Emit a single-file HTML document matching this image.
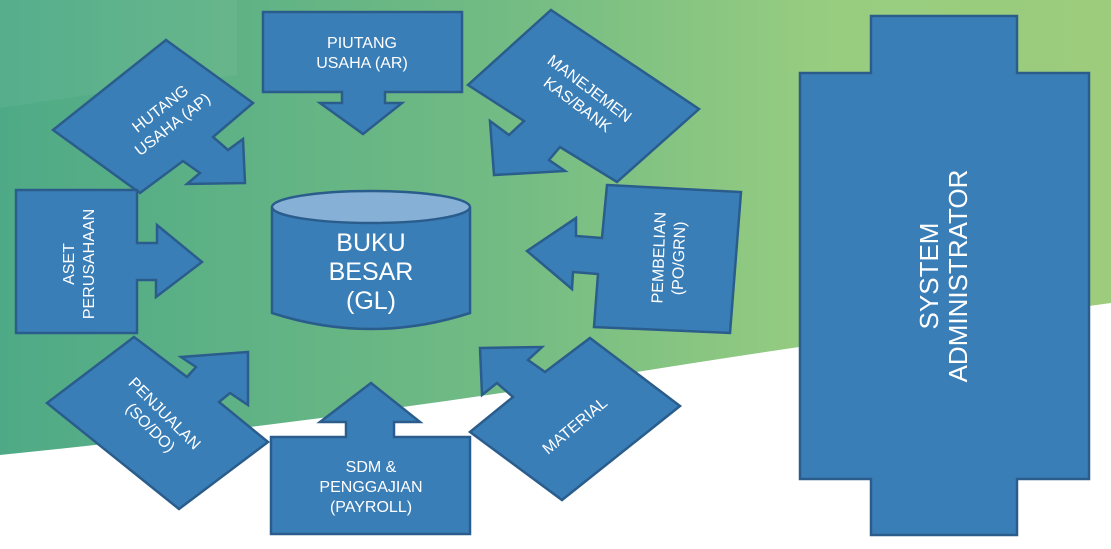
<!DOCTYPE html>
<html><head><style>
html,body{margin:0;padding:0;width:1111px;height:549px;overflow:hidden;background:#fff}
svg{display:block}
text{font-family:"Liberation Sans",sans-serif;fill:#fff}
</style></head><body>
<svg width="1111" height="549" viewBox="0 0 1111 549" xmlns="http://www.w3.org/2000/svg">
<defs>
<linearGradient id="bg" x1="0" y1="0" x2="1" y2="0">
<stop offset="0" stop-color="#4eaa86"/>
<stop offset="0.45" stop-color="#72bb84"/>
<stop offset="0.75" stop-color="#98cd80"/>
<stop offset="1" stop-color="#9ccc7c"/>
</linearGradient>
</defs>
<path d="M0 0 H1111 V303 Q800 345 600 378 Q300 425 0 455 Z" fill="url(#bg)"/>
<path d="M0 0 H237 V75 Q120 90 0 108 Z" fill="#ffffff" opacity="0.05"/>
<g fill="#3a7eb8" stroke="#2a5d8c" stroke-width="2.5" stroke-linejoin="miter">
<polygon points="263,12 462,12 462,92 385,92 385,103 402,103 363,134 320,103 342,103 342,92 263,92"/>
<polygon points="166,40 253,103 213,137 228,150 243,139 245,183 187,184 200,173 183,161 140,193 53,130"/>
<polygon points="551,10 699,109 617,182 560,147 549,160 565,171 494,175 490,121 509,135 524,121 468,85"/>
<polygon points="16,190 137,190 137,243 157,243 157,225 202,262 156,297 156,280 137,280 137,333 16,333"/>
<polygon points="607,185 741,192 730,333 594,327 598,274 573,272 572,289 527,251 576,218 576,236 602,238"/>
<polygon points="134,337 187,377 196,367 181,357 248,352 248,405 230,393 219,402 268,442 179,509 47,403"/>
<polygon points="590,338 680,406 562,500 470,432 513,397 497,383 482,395 480,348 542,347 528,360 545,372"/>
<polygon points="271,437 346,437 346,422 320,422 371,383 420,422 394,422 394,437 470,437 470,534 271,534"/>
<polygon points="871,16 1017,16 1017,73 1089,73 1089,479 1017,479 1017,535 871,535 871,479 800,479 800,73 871,73"/>
<path d="M272 207 V313 Q371 345 470 313 V207"/>
<ellipse cx="371" cy="207" rx="99" ry="16" fill="#86b0d6"/>
</g>
<g font-size="16" text-anchor="middle">
<text x="362" y="48">PIUTANG</text>
<text x="362" y="68">USAHA (AR)</text>
<text transform="translate(166,116) rotate(-38)"><tspan x="0" y="-4">HUTANG</tspan><tspan x="0" y="16">USAHA (AP)</tspan></text>
<text transform="translate(584,96) rotate(37)"><tspan x="0" y="-4">MANEJEMEN</tspan><tspan x="0" y="16">KAS/BANK</tspan></text>
<text transform="translate(78,264) rotate(-90)"><tspan x="0" y="-4">ASET</tspan><tspan x="0" y="16">PERUSAHAAN</tspan></text>
<text transform="translate(668,258) rotate(-88)"><tspan x="0" y="-4">PEMBELIAN</tspan><tspan x="0" y="16">(PO/GRN)</tspan></text>
<text transform="translate(158,420) rotate(45)"><tspan x="0" y="-4">PENJUALAN</tspan><tspan x="0" y="16">(SO/DO)</tspan></text>
<text transform="translate(575,426) rotate(-40)" x="0" y="5">MATERIAL</text>
<text x="371" y="472">SDM &amp;</text>
<text x="371" y="492">PENGGAJIAN</text>
<text x="371" y="512">(PAYROLL)</text>
</g>
<g font-size="25" text-anchor="middle">
<text x="371" y="251">BUKU</text>
<text x="371" y="280">BESAR</text>
<text x="371" y="309">(GL)</text>
</g>
<text font-size="26" text-anchor="middle" transform="translate(944,276) rotate(-90)"><tspan x="0" y="-6">SYSTEM</tspan><tspan x="0" y="23">ADMINISTRATOR</tspan></text>
</svg>
</body></html>
